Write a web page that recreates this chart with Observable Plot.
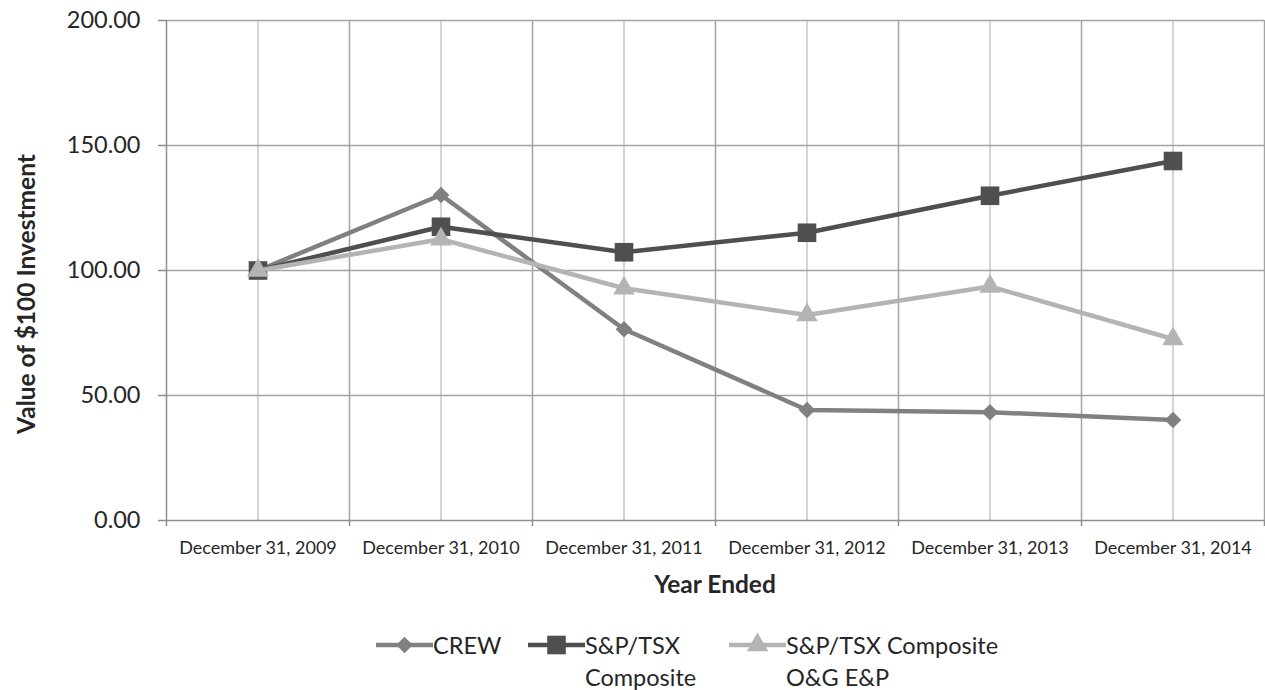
<!DOCTYPE html>
<html>
<head>
<meta charset="utf-8">
<script src="https://cdn.jsdelivr.net/npm/d3@7"></script>
<script src="https://cdn.jsdelivr.net/npm/@observablehq/plot@0.6"></script>
<style>
  html, body { margin: 0; padding: 0; background: #fff; }
  #wrap { position: relative; width: 1265px; height: 690px; font-family: Lato, "Open Sans", sans-serif; color: #262626; }
  #chart { position: absolute; left: 0; top: 0; }
  .abs { position: absolute; white-space: nowrap; }
  #ytitle { left: 25px; top: 294px; transform: translate(-50%, -50%) rotate(-90deg); font-weight: bold; font-size: 24.5px; }
  #xtitle { left: 715px; top: 583px; transform: translate(-50%, -50%); font-weight: bold; font-size: 24.5px; }
  .legtext { font-size: 23.5px; line-height: 32px; }
</style>
</head>
<body>
<div id="wrap">
  <div id="chart"></div>
  <div id="ytitle" class="abs">Value of $100 Investment</div>
  <div id="xtitle" class="abs">Year Ended</div>
  <div id="legend"></div>
</div>
<script>
// ---- data ----
const categories = ["December 31, 2009", "December 31, 2010", "December 31, 2011", "December 31, 2012", "December 31, 2013", "December 31, 2014"];
const crew   = [100, 130.2, 76.5, 44.2, 43.3, 40.2];
const sptsx  = [100, 117.5, 107.3, 115.1, 129.9, 143.8];
const ogep   = [100, 112.5, 92.9, 82.2, 93.6, 72.6];
const seriesNames = ["CREW", "S&P/TSX Composite", "S&P/TSX Composite O&G E&P"];
const legendLines = [["CREW"], ["S&P/TSX", "Composite"], ["S&P/TSX Composite", "O&G E&P"]];
const yTicks = [0, 50, 100, 150, 200];

// ---- styles ----
const colors = ["#808080", "#4f4f4f", "#b4b4b4"];
const symbols = ["diamond2", "square", "triangle"];
const radii = [7.5, 10.5, 8];

const seriesValues = [crew, sptsx, ogep];
const rows = [];
seriesValues.forEach((vals, s) => vals.forEach((v, i) => rows.push({series: seriesNames[s], i, value: v})));

const centers = categories.map((_, i) => i);
const bounds = d3.range(categories.length + 1).map(i => i - 0.5);

const marks = [
  Plot.gridX(centers, {stroke: "#c6c6c6", strokeOpacity: 1, strokeWidth: 1.5}),
  Plot.gridX(bounds.slice(1), {stroke: "#a3a3a3", strokeOpacity: 1, strokeWidth: 1.5}),
  Plot.gridY(yTicks.slice(1), {stroke: "#a3a3a3", strokeOpacity: 1, strokeWidth: 1.5}),
  Plot.ruleY([0], {stroke: "#8e8e8e", strokeWidth: 1.5}),
  Plot.ruleX([bounds[0]], {stroke: "#8e8e8e", strokeWidth: 1.5}),
  Plot.axisY(yTicks, {tickSize: 8, tickPadding: 18, tickFormat: d3.format(".2f"), fontSize: 23.5, stroke: "#8e8e8e", strokeWidth: 1.5, label: null}),
  Plot.axisX(bounds, {tickSize: 6, tickFormat: () => "", stroke: "#8e8e8e", strokeWidth: 1.5, label: null}),
  Plot.axisX(centers, {tickSize: 0, tickPadding: 21, tickFormat: i => categories[i], fontSize: 18, label: null})
];
seriesNames.forEach((name, s) => {
  const d = rows.filter(r => r.series === name);
  marks.push(Plot.line(d, {x: "i", y: "value", stroke: colors[s], strokeWidth: 4.5}));
  marks.push(Plot.dot(d, {x: "i", y: "value", symbol: symbols[s], fill: colors[s], r: radii[s], stroke: null}));
});

const chart = Plot.plot({
  width: 1265,
  height: 600,
  marginLeft: 166,
  marginRight: 1,
  marginTop: 20,
  marginBottom: 80,
  style: {fontFamily: "Lato, 'Open Sans', sans-serif", color: "#262626", background: "#fff"},
  x: {type: "linear", domain: [bounds[0], bounds[bounds.length - 1]], label: null},
  y: {domain: [0, 200], label: null},
  marks
});
document.getElementById("chart").appendChild(chart);

// ---- legend ----
const legend = d3.select("#legend");
const symLeft = [376, 528, 729];
const textLeft = [433, 585, 786];
seriesNames.forEach((name, s) => {
  const svg = legend.append("svg").attr("class", "abs")
    .style("left", symLeft[s] + "px").style("top", "630px")
    .attr("width", 58).attr("height", 30);
  svg.append("line").attr("x1", 0).attr("x2", 57).attr("y1", 15).attr("y2", 15)
    .attr("stroke", colors[s]).attr("stroke-width", 4.5);
  const sym = d3.symbol(
    {diamond2: d3.symbolDiamond2, square: d3.symbolSquare, triangle: d3.symbolTriangle}[symbols[s]],
    Math.PI * radii[s] * radii[s]);
  svg.append("path").attr("d", sym()).attr("transform", "translate(28.5,15)").attr("fill", colors[s]);
  legend.append("div").attr("class", "abs legtext")
    .style("left", textLeft[s] + "px").style("top", "629px")
    .html(legendLines[s].map(t => t.replace(/&/g, "&amp;")).join("<br>"));
});
</script>
</body>
</html>
